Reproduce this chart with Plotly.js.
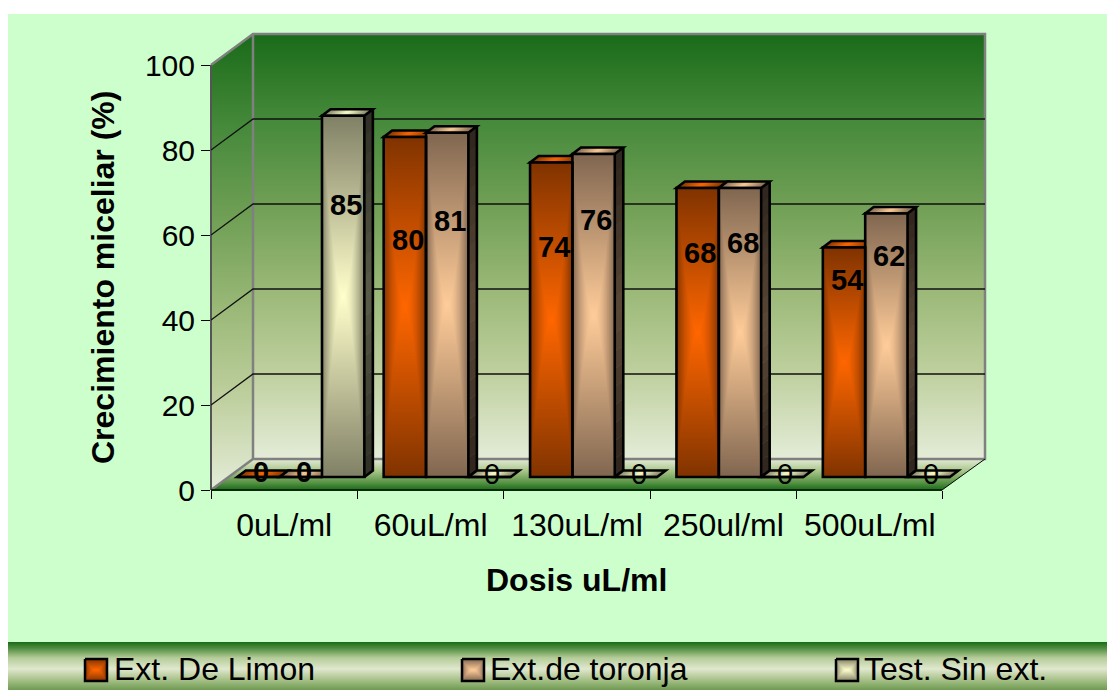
<!DOCTYPE html>
<html>
<head>
<meta charset="utf-8">
<script src="https://cdn.plot.ly/plotly-3.0.1.min.js"></script>
<style>
  html, body { margin: 0; padding: 0; background: #fff; overflow: hidden; }
  #chart { position: absolute; left: 8px; top: 14px; width: 1099px; height: 676px; }
</style>
</head>
<body>
<div id="chart"></div>
<script>
// Series and labels
const categories = ['0uL/ml', '60uL/ml', '130uL/ml', '250ul/ml', '500uL/ml'];
const limon = [0, 80, 74, 68, 54];
const toronja = [0, 81, 76, 68, 62];
const testigo = [85, 0, 0, 0, 0];
const seriesNames = ['Ext. De Limon', 'Ext.de toronja', 'Test. Sin ext.'];
const yTicks = [0, 20, 40, 60, 80, 100];

// Heights (in axis units) at which each value label sits
const labelLevelsLimon = [4.2, 58.8, 57.2, 55.8, 49.4];
const labelLevelsToronja = [4.2, 63.3, 63.5, 58.1, 55];
const labelLevelsTestigo = [67, 3.8, 3.8, 3.8, 3.8];

// Page-pixel frame of the plot
const FRONT_LEFT = 211, FRONT_RIGHT = 942, BACK_RIGHT = 985;
const WALL_TOP = 34, WALL_BOTTOM = 459, FRONT_TOP = 65, FLOOR = 490;
const PLOT_W = BACK_RIGHT - FRONT_LEFT, PLOT_H = FLOOR - WALL_TOP;
const PX_X = (FRONT_RIGHT - FRONT_LEFT) / categories.length;  // pixels per category
const PX_Y = (FLOOR - FRONT_TOP) / 100;                       // pixels per percent
const fx = px => (px - FRONT_LEFT) / PLOT_W;
const fy = py => (FLOOR - py) / PLOT_H;

// Bar geometry in axis units
const BAR_W = 42.3 / PX_X;
const SHIFT_X = 16.6 / PX_X, BASE = 13 / PX_Y;
const DEPTH_X = 8.5 / PX_X, DEPTH_Y = 6.5 / PX_Y;
const WALL_DX = 42 / PX_X, WALL_DY = 31 / PX_Y;
const LABEL_NUDGE = 1.5 / PX_X;

const palette = [
  { center: [255, 102, 0], edge: [128, 51, 0] },
  { center: [255, 204, 153], edge: [128, 102, 80] },
  { center: [255, 255, 204], edge: [128, 128, 102] }
];
const FONT = '"Liberation Sans", Arial, sans-serif';

const mix = (a, b, t) => a.map((v, i) => v + (b[i] - v) * t);
const css = (c, k = 1) => `rgb(${c.map(v => Math.round(v * k)).join(',')})`;

// Box gradient: bright middle fading towards all four edges
function boxGradient(colors, w, h) {
  const cv = document.createElement('canvas');
  cv.width = w; cv.height = h;
  const ctx = cv.getContext('2d');
  const img = ctx.createImageData(w, h);
  for (let j = 0; j < h; j++) {
    for (let i = 0; i < w; i++) {
      const u = Math.abs(2 * (i + 0.5) / w - 1), v = Math.abs(2 * (j + 0.5) / h - 1);
      const c = mix(colors.center, colors.edge, Math.max(Math.pow(u, 1.7), v));
      const k = (j * w + i) * 4;
      img.data[k] = c[0]; img.data[k + 1] = c[1]; img.data[k + 2] = c[2]; img.data[k + 3] = 255;
    }
  }
  ctx.putImageData(img, 0, 0);
  return cv.toDataURL();
}

// Vertical linear gradient, optionally limited to a polygon
function linearGradient(w, h, stops, polygon) {
  const cv = document.createElement('canvas');
  cv.width = w; cv.height = h;
  const ctx = cv.getContext('2d');
  const g = ctx.createLinearGradient(0, 0, 0, h);
  stops.forEach(s => g.addColorStop(s[0], s[1]));
  ctx.fillStyle = g;
  if (polygon) {
    ctx.beginPath();
    polygon.forEach((p, i) => i ? ctx.lineTo(p[0], p[1]) : ctx.moveTo(p[0], p[1]));
    ctx.closePath();
    ctx.fill();
  } else {
    ctx.fillRect(0, 0, w, h);
  }
  return cv.toDataURL();
}

const wallStops = [[0, '#196B19'], [0.2, '#45893A'], [0.4, '#6F9F55'], [0.6, '#9AB877'], [0.8, '#BFD09F'], [1, '#E4ECD8']];
const floorStops = [[0, '#E4ECD8'], [0.4, '#A6C386'], [0.75, '#5A9447'], [1, '#196B19']];
const bandStops = [[0, '#196B19'], [0.12, '#4B8A3C'], [0.33, '#B5CC98'], [0.56, '#E0E8CF'], [0.78, '#A9C28A'], [1, '#6E9B52']];

const paperImage = (src, l, t, w, h) => ({
  source: src, xref: 'paper', yref: 'paper', x: fx(l), y: fy(t),
  sizex: w / PLOT_W, sizey: h / PLOT_H, sizing: 'stretch',
  xanchor: 'left', yanchor: 'top', layer: 'below'
});

const images = [
  paperImage(linearGradient(BACK_RIGHT - 253, WALL_BOTTOM - WALL_TOP, wallStops), 253, WALL_TOP, BACK_RIGHT - 253, WALL_BOTTOM - WALL_TOP),
  paperImage(linearGradient(42, PLOT_H, wallStops, [[0, FRONT_TOP - WALL_TOP], [42, 0], [42, WALL_BOTTOM - WALL_TOP], [0, PLOT_H]]), FRONT_LEFT, WALL_TOP, 42, PLOT_H),
  paperImage(linearGradient(PLOT_W, FLOOR - WALL_BOTTOM, floorStops, [[42, 0], [PLOT_W, 0], [FRONT_RIGHT - FRONT_LEFT, FLOOR - WALL_BOTTOM], [0, FLOOR - WALL_BOTTOM]]), FRONT_LEFT, WALL_BOTTOM, PLOT_W, FLOOR - WALL_BOTTOM),
  paperImage(linearGradient(1099, 48, bandStops), 8, 642, 1099, 48)
];

const shapes = [];
const paperPath = (pts, color, width) => shapes.push({
  type: 'path', xref: 'paper', yref: 'paper', layer: 'below',
  path: pts.map((p, i) => (i ? 'L' : 'M') + fx(p[0]) + ' ' + fy(p[1])).join(' '),
  line: { color, width }
});

// Wall frame
paperPath([[FRONT_LEFT, FRONT_TOP], [253, WALL_TOP], [BACK_RIGHT, WALL_TOP], [BACK_RIGHT, WALL_BOTTOM], [253, WALL_BOTTOM], [FRONT_LEFT, FLOOR]], '#808080', 2.5);
paperPath([[253, WALL_TOP], [253, WALL_BOTTOM]], '#808080', 2.5);
paperPath([[FRONT_RIGHT, FLOOR], [BACK_RIGHT, WALL_BOTTOM]], '#000', 1);
paperPath([[FRONT_LEFT, FRONT_TOP], [FRONT_LEFT, FLOOR]], '#555', 2);
paperPath([[FRONT_LEFT, FLOOR], [FRONT_RIGHT, FLOOR]], '#0a2a0a', 2);

const dataPath = (pts, line, fill) => shapes.push({
  type: 'path', xref: 'x', yref: 'y', layer: 'below',
  path: pts.map((p, i) => (i ? 'L' : 'M') + p[0] + ' ' + p[1]).join(' ') + (fill ? ' Z' : ''),
  line, fillcolor: fill || 'rgba(0,0,0,0)'
});

// Gridlines across the side wall and the back wall
yTicks.filter(v => v > 0 && v < 100).forEach(v => {
  dataPath([[-0.5, v], [-0.5 + WALL_DX, v + WALL_DY], [categories.length - 0.5 + WALL_DX, v + WALL_DY]], { color: '#111', width: 1.3 });
});

const series = [limon, toronja, testigo];
const labelLevels = [labelLevelsLimon, labelLevelsToronja, labelLevelsTestigo];
const barOffset = s => SHIFT_X + (s - 1.5) * BAR_W;
const annotations = [];

const STRIPS_TOP = 14, STRIPS_SIDE = 18, OUTLINE = 2.6;
series.forEach((values, s) => {
  const colors = palette[s];
  const texture = boxGradient(colors, 84, 512);
  values.forEach((v, c) => {
    const left = c + barOffset(s), right = left + BAR_W, top = BASE + v;
    // Upper face of the column
    for (let k = 0; k < STRIPS_TOP; k++) {
      const a = left + BAR_W * k / STRIPS_TOP, b = left + BAR_W * (k + 1) / STRIPS_TOP;
      const col = css(mix(colors.center, colors.edge, Math.abs(2 * (k + 0.5) / STRIPS_TOP - 1)));
      dataPath([[a, top], [b, top], [b + DEPTH_X, top + DEPTH_Y], [a + DEPTH_X, top + DEPTH_Y]], { color: col, width: 0.6 }, col);
    }
    if (v > 0) {
      // Shaded right-hand face of the column
      for (let k = 0; k < STRIPS_SIDE; k++) {
        const a = BASE + v * k / STRIPS_SIDE, b = BASE + v * (k + 1) / STRIPS_SIDE;
        const col = css(mix(colors.center, colors.edge, Math.abs(2 * (k + 0.5) / STRIPS_SIDE - 1)), 0.36);
        dataPath([[right, a], [right + DEPTH_X, a + DEPTH_Y], [right + DEPTH_X, b + DEPTH_Y], [right, b]], { color: col, width: 0.6 }, col);
      }
      dataPath([[right, BASE], [right + DEPTH_X, BASE + DEPTH_Y], [right + DEPTH_X, top + DEPTH_Y]], { color: '#000', width: OUTLINE }, null);
      // Front face texture, outlined by the bar trace above it
      images.push({
        source: texture, xref: 'x', yref: 'y', x: left, y: top, sizex: BAR_W, sizey: v,
        sizing: 'stretch', xanchor: 'left', yanchor: 'top', layer: 'below'
      });
    }
    dataPath([[left, top], [right, top], [right + DEPTH_X, top + DEPTH_Y], [left + DEPTH_X, top + DEPTH_Y]], { color: '#000', width: OUTLINE }, 'rgba(0,0,0,0)');

    // Value label
    const zeroOfControl = s === 2 && v === 0;
    annotations.push({
      xref: 'x', yref: 'y', x: left + BAR_W / 2 + DEPTH_X / 2 - LABEL_NUDGE, y: labelLevels[s][c],
      text: zeroOfControl ? String(v) : '<b>' + v + '</b>',
      showarrow: false, xanchor: 'center', yanchor: 'middle',
      font: { family: FONT, size: 29, color: '#000' }
    });
  });
});

// Legend strip
const swatchLeft = [85, 462, 836], legendTextLeft = [112, 488, 862];
seriesNames.forEach((name, s) => {
  images.push(paperImage(boxGradient(palette[s], 44, 44), swatchLeft[s], 659, 22, 22));
  paperPath([[swatchLeft[s], 659], [swatchLeft[s] + 22, 659], [swatchLeft[s] + 22, 681], [swatchLeft[s], 681], [swatchLeft[s], 659]], '#000', 2.5);
  annotations.push({
    xref: 'paper', yref: 'paper', x: fx(legendTextLeft[s]), y: fy(669), text: name,
    showarrow: false, xanchor: 'left', yanchor: 'middle',
    font: { family: FONT, size: 32, color: '#000' }
  });
});

// Axis titles
annotations.push({
  xref: 'paper', yref: 'paper', x: fx(576), y: fy(580), text: '<b>Dosis uL/ml</b>',
  showarrow: false, xanchor: 'center', yanchor: 'middle',
  font: { family: FONT, size: 32, color: '#000' }
});
annotations.push({
  xref: 'paper', yref: 'paper', x: fx(103), y: fy(278), text: '<b>Crecimiento miceliar (%)</b>',
  textangle: -90, showarrow: false, xanchor: 'center', yanchor: 'middle',
  font: { family: FONT, size: 32, color: '#000' }
});

const traces = series.map((values, s) => ({
  type: 'bar', name: seriesNames[s], x: categories, y: values, base: BASE,
  width: BAR_W, offset: barOffset(s), cliponaxis: false,
  marker: { color: 'rgba(0,0,0,0)', line: { color: '#000', width: OUTLINE } },
  hoverinfo: 'x+y'
}));

const layout = {
  width: 1099, height: 676, autosize: false, showlegend: false,
  paper_bgcolor: '#CCFFCC', plot_bgcolor: 'rgba(0,0,0,0)',
  barmode: 'overlay', font: { family: FONT, color: '#000' },
  margin: { l: FRONT_LEFT - 8, r: 1107 - BACK_RIGHT, t: WALL_TOP - 14, b: 690 - FLOOR, pad: 0 },
  xaxis: {
    type: 'category', categoryorder: 'array', categoryarray: categories,
    range: [-0.5, categories.length - 0.5 + WALL_DX], tickson: 'boundaries',
    showline: false, showgrid: false, zeroline: false,
    ticks: 'outside', ticklen: 8, tickwidth: 1, tickcolor: '#000', ticklabelstandoff: 13,
    tickfont: { family: FONT, size: 32, color: '#000' }
  },
  yaxis: {
    range: [0, 100 + WALL_DY], tickmode: 'array', tickvals: yTicks,
    showline: false, showgrid: false, zeroline: false,
    ticks: 'outside', ticklen: 9, tickwidth: 1, tickcolor: '#000',
    tickfont: { family: FONT, size: 30, color: '#000' }
  },
  images, shapes, annotations
};

Plotly.newPlot('chart', traces, layout, { displayModeBar: false, responsive: false });
</script>
</body>
</html>
